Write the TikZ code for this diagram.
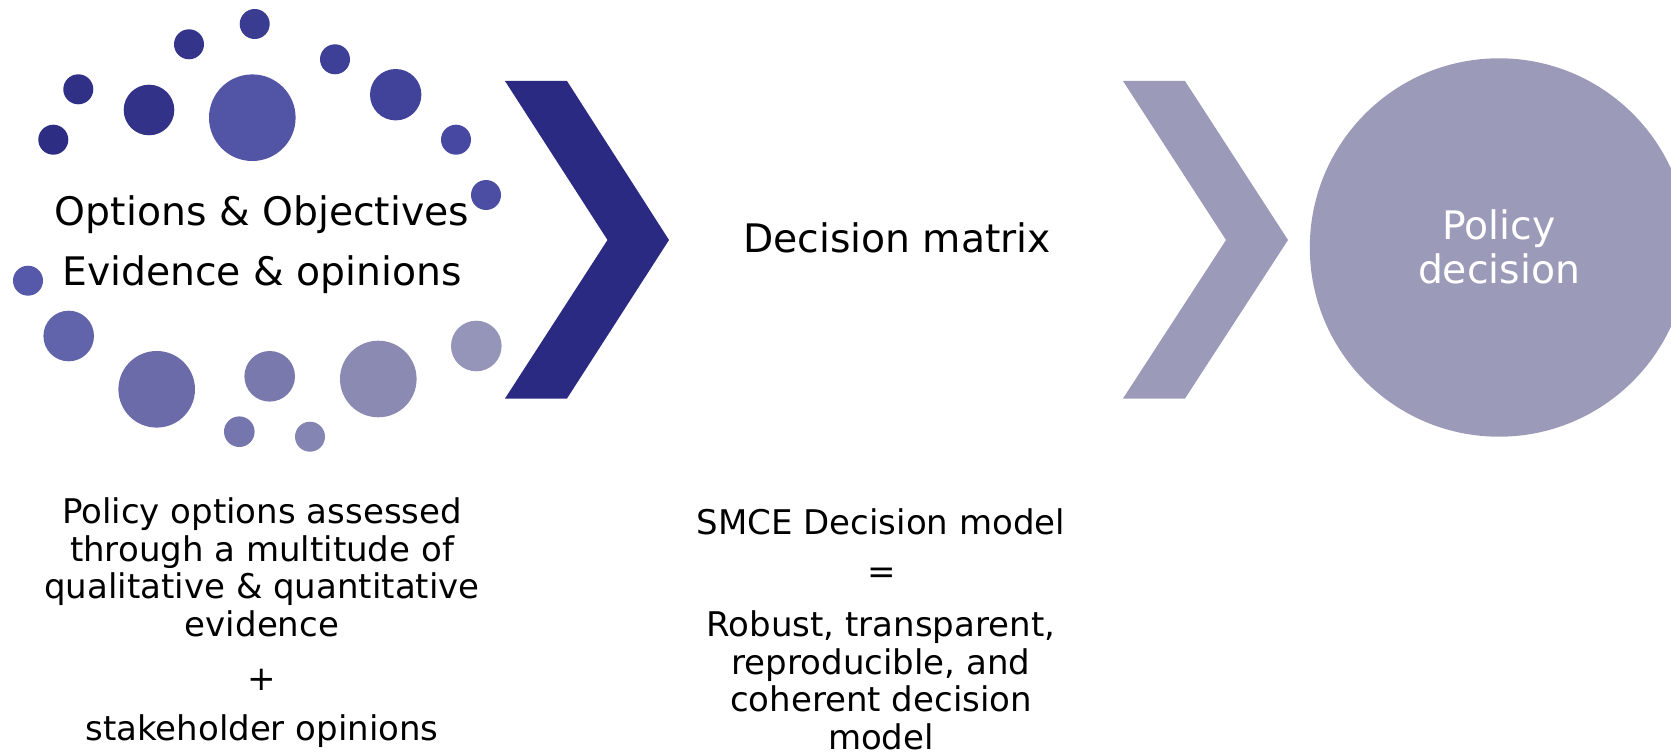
\documentclass[tikz,border=0pt]{standalone}
\usepackage{fontspec}
\setmainfont{DejaVu Sans}
\definecolor{navy}{HTML}{2B2A82}
\definecolor{lilac}{HTML}{9B9BB9}
\tikzset{
  big/.style={font=\fontsize{39.3}{60}\selectfont, inner sep=0pt, align=center},
  small/.style={font=\fontsize{34}{37.5}\selectfont, inner sep=0pt, align=center}
}
\begin{document}
\begin{tikzpicture}[x=1pt,y=-1pt]
\useasboundingbox (0,0) rectangle (1671,754);
% bubbles
\foreach \x/\y/\r/\c in {254.7/24/15/3A3C91, 189/44.3/15/34358A, 335/59.3/15/3E3F97,
  78.3/89.3/15/2F3086, 149/110/25.3/313288, 252.3/117.7/43.3/5254A6,
  395.7/94.7/25.7/41439A, 53.3/139.7/15/2C2D83, 456/139.7/15/4648A1,
  486/195/15/4C4EA4, 28/280.7/15/5658A9, 68.7/336/25.3/6163AB,
  156.7/389.3/38.3/6B6BAA, 269.7/376.3/25.3/7979AE, 378.3/379/38.3/8A8AB2,
  476.3/346/25.3/9595BA, 239.3/431.7/15.3/7676AE, 310/436.7/15/8585B3}{
  \definecolor{bub}{HTML}{\c}
  \fill[bub] (\x,\y) circle (\r pt);
}
% chevrons
\fill[navy] (505,81) -- (567,81) -- (669,240) -- (567,398.5) -- (505,398.5) -- (607.5,240) -- cycle;
\fill[lilac] (1123,81) -- (1185,81) -- (1288,240) -- (1185,398.5) -- (1123,398.5) -- (1226,240) -- cycle;
\fill[lilac] (1499,247.5) circle (189.2pt);
% texts (base = baseline of the last line)
\node[big, anchor=base] (inputs) at (262,285) {Options \& Objectives\\Evidence \& opinions};
\node[big, anchor=base] (matrix) at (897,252.7) {Decision matrix};
\node[big, anchor=base, text=white, font=\fontsize{39.3}{44}\selectfont] (policy) at (1499,283.3) {Policy\\decision};
\node[small, anchor=base] (assessed) at (262,636.2) {Policy options assessed\\through a multitude of\\qualitative \& quantitative\\evidence};
\node[small] (plus) at (262,680) {+};
\node[small, anchor=base] (stake) at (262,740) {stakeholder opinions};
\node[small, anchor=base] (smce) at (881,534.3) {SMCE Decision model};
\node[small] (equals) at (881.7,576) {=};
\node[small, anchor=base] (robust) at (881,749.3) {Robust, transparent,\\reproducible, and\\coherent decision\\model};
\end{tikzpicture}
\end{document}
